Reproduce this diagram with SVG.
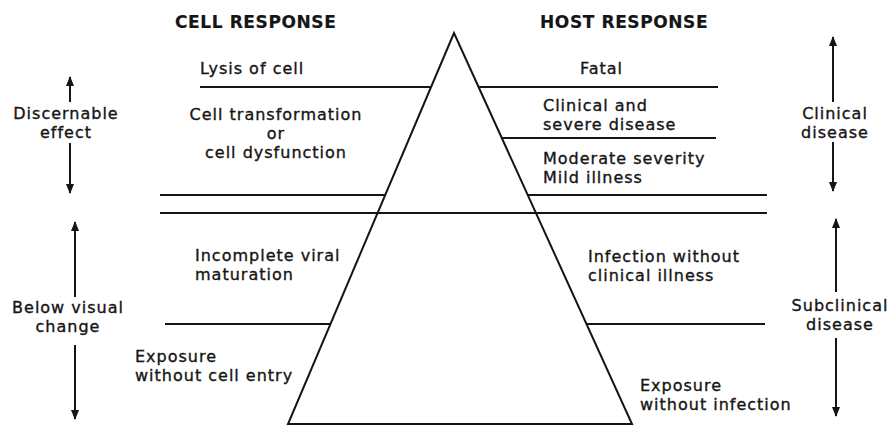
<svg xmlns="http://www.w3.org/2000/svg" width="891" height="426" viewBox="0 0 891 426">
<style>
  text { font-family: "DejaVu Sans", "Liberation Sans", sans-serif; font-size: 16px; letter-spacing: 1px; fill: #151515; stroke: #151515; stroke-width: 0.35px; }
  .h { font-weight: bold; font-size: 17px; letter-spacing: 0.6px; stroke-width: 0.2px; }
  .c { text-anchor: middle; }
  .ln { stroke: #151515; stroke-width: 2; fill: none; }
  .ar { stroke: #151515; stroke-width: 2; fill: none; marker-end: url(#ah); }
</style>
<defs>
  <marker id="ah" markerUnits="userSpaceOnUse" markerWidth="10" markerHeight="8" refX="9" refY="4" orient="auto">
    <path d="M0,0 L10,4 L0,8 z" fill="#151515"/>
  </marker>
</defs>
<rect width="891" height="426" fill="#ffffff"/>

<g id="pyramid">
  <path class="ln" d="M454,33 L288,424 L632,424 Z"/>
</g>

<g id="levels">
  <line class="ln" x1="200" y1="87" x2="431" y2="87"/>
  <line class="ln" x1="479" y1="87" x2="718" y2="87"/>
  <line class="ln" x1="502" y1="138" x2="716" y2="138"/>
  <line class="ln" x1="160" y1="195" x2="386" y2="195"/>
  <line class="ln" x1="528" y1="195" x2="767" y2="195"/>
  <line class="ln" x1="160" y1="213" x2="767" y2="213"/>
  <line class="ln" x1="165" y1="324" x2="331" y2="324"/>
  <line class="ln" x1="587" y1="324" x2="765" y2="324"/>
</g>

<g id="connectors">
  <line class="ar" x1="70" y1="102" x2="70" y2="77"/>
  <line class="ar" x1="70" y1="143" x2="70" y2="193"/>
  <line class="ar" x1="75" y1="297" x2="75" y2="222"/>
  <line class="ar" x1="75" y1="345" x2="75" y2="419"/>
  <line class="ar" x1="833" y1="102" x2="833" y2="37"/>
  <line class="ar" x1="833" y1="142" x2="833" y2="191"/>
  <line class="ar" x1="836" y1="292" x2="836" y2="219"/>
  <line class="ar" x1="836" y1="338" x2="836" y2="416"/>
</g>

<g id="cell-response-title"><text class="h" x="175" y="28">CELL RESPONSE</text></g>
<g id="host-response-title"><text class="h" x="540" y="28">HOST RESPONSE</text></g>

<g id="lysis"><text x="200" y="74">Lysis of cell</text></g>
<g id="fatal"><text x="580" y="74">Fatal</text></g>

<g id="cell-transformation">
  <text class="c" x="276" y="120">Cell transformation</text>
  <text class="c" x="276" y="139">or</text>
  <text class="c" x="276" y="158">cell dysfunction</text>
</g>
<g id="clinical-severe">
  <text x="543" y="111">Clinical and</text>
  <text x="543" y="130">severe disease</text>
</g>
<g id="moderate-mild">
  <text x="543" y="164">Moderate severity</text>
  <text x="543" y="183">Mild illness</text>
</g>

<g id="discernable-effect">
  <text class="c" x="66" y="119">Discernable</text>
  <text class="c" x="66" y="138">effect</text>
</g>
<g id="clinical-disease">
  <text class="c" x="835" y="119">Clinical</text>
  <text class="c" x="835" y="138">disease</text>
</g>

<g id="incomplete-viral">
  <text x="195" y="261">Incomplete viral</text>
  <text x="195" y="280">maturation</text>
</g>
<g id="infection-without-illness">
  <text x="588" y="262">Infection without</text>
  <text x="588" y="281">clinical illness</text>
</g>

<g id="below-visual">
  <text class="c" x="68" y="313">Below visual</text>
  <text class="c" x="68" y="332">change</text>
</g>
<g id="subclinical-disease">
  <text class="c" x="840" y="311">Subclinical</text>
  <text class="c" x="840" y="330">disease</text>
</g>

<g id="exposure-cell">
  <text x="135" y="362">Exposure</text>
  <text x="135" y="381">without cell entry</text>
</g>
<g id="exposure-host">
  <text x="640" y="391">Exposure</text>
  <text x="640" y="410">without infection</text>
</g>
</svg>
